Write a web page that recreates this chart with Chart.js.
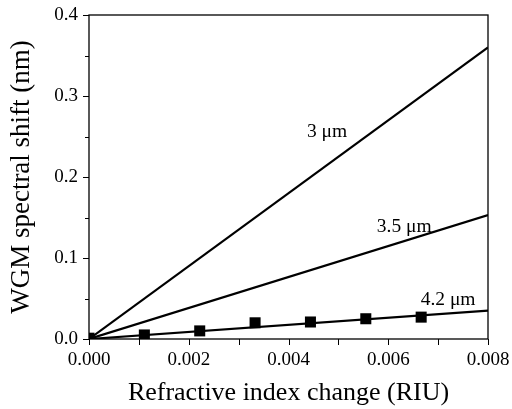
<!DOCTYPE html>
<html><head><meta charset="utf-8">
<script src="https://cdn.jsdelivr.net/npm/chart.js@4/dist/chart.umd.min.js"></script>
<style>html,body{margin:0;padding:0;background:#fff}#wrap{width:512px;height:409px}</style>
</head><body><div id="wrap"><canvas id="c" width="512" height="409"></canvas></div>
<script>
const xRange = [0, 0.008];
const line3um = [0, 0.360];
const line35um = [0, 0.153];
const line42um = [0, 0.035];
const measX = [0, 0.00111, 0.00222, 0.00333, 0.00444, 0.00555, 0.00666];
const measY = [0.001, 0.005, 0.010, 0.020, 0.021, 0.025, 0.027];
const lineLabels = ["3 \u03bcm", "3.5 \u03bcm", "4.2 \u03bcm"];
const labelAt = [[0.00437, 0.2498], [0.00577, 0.1323], [0.00665, 0.042]];
const xTicks = [0, 0.002, 0.004, 0.006, 0.008];
const yTicks = [0, 0.1, 0.2, 0.3, 0.4];

const FONT = "'Liberation Serif', 'Times New Roman', serif";
const toPts = (ys) => ys.map((y, i) => ({x: xRange[i], y}));

const axisPlugin = {
  id: 'axisTicks',
  afterDatasetsDraw(chart) {
    const {ctx, chartArea: a, scales: {x, y}} = chart;
    ctx.save();
    ctx.strokeStyle = '#000';
    ctx.lineWidth = 1.3;
    ctx.strokeRect(a.left, a.top, a.right - a.left, a.bottom - a.top);
    ctx.lineWidth = 1;
    ctx.beginPath();
    for (let v = 0; v <= 0.4001; v += 0.05) {
      const p = Math.round(y.getPixelForValue(v)) + 0.5;
      const major = Math.abs(v * 10 - Math.round(v * 10)) < 1e-6;
      ctx.moveTo(a.left, p); ctx.lineTo(a.left - (major ? 6 : 4), p);
    }
    for (let v = 0; v <= 0.00801; v += 0.001) {
      const p = Math.round(x.getPixelForValue(v)) + 0.5;
      ctx.moveTo(p, a.bottom); ctx.lineTo(p, a.bottom + 6);
    }
    ctx.stroke();
    ctx.fillStyle = '#000';
    ctx.font = '19.5px ' + FONT;
    ctx.textAlign = 'left';
    ctx.textBaseline = 'alphabetic';
    lineLabels.forEach((t, i) => {
      ctx.fillText(t, x.getPixelForValue(labelAt[i][0]), y.getPixelForValue(labelAt[i][1]));
    });
    ctx.restore();
  }
};

new Chart(document.getElementById('c'), {
  type: 'scatter',
  data: {
    datasets: [
      {type: 'line', data: toPts(line3um), borderColor: '#000', borderWidth: 2.2, pointRadius: 0, fill: false},
      {type: 'line', data: toPts(line35um), borderColor: '#000', borderWidth: 2.2, pointRadius: 0, fill: false},
      {type: 'line', data: toPts(line42um), borderColor: '#000', borderWidth: 2.2, pointRadius: 0, fill: false},
      {data: measX.map((xv, i) => ({x: xv, y: measY[i]})), pointStyle: 'rect', pointRadius: 7.8,
       backgroundColor: '#000', borderColor: '#000', borderWidth: 0}
    ]
  },
  options: {
    responsive: false, animation: false, devicePixelRatio: 1,
    layout: {padding: {top: 15, right: 24, left: 0, bottom: 0}},
    plugins: {legend: {display: false}, tooltip: {enabled: false}},
    scales: {
      x: {
        type: 'linear', min: 0, max: 0.008,
        afterBuildTicks: s => { s.ticks = xTicks.map(v => ({value: v})); },
        afterFit: s => { s.height = 70; s.paddingLeft = 0; s.paddingRight = 0; },
        grid: {display: false, drawTicks: false},
        border: {display: false},
        ticks: {color: '#000', font: {family: FONT, size: 19}, padding: 10, maxRotation: 0,
                callback: v => v.toFixed(3)},
        title: {display: true, text: 'Refractive index change (RIU)', color: '#000',
                font: {family: FONT, size: 26}, padding: {top: 0, bottom: 0}}
      },
      y: {
        type: 'linear', min: 0, max: 0.4,
        afterBuildTicks: s => { s.ticks = yTicks.map(v => ({value: v})); },
        afterFit: s => { s.width = 89; s.paddingTop = 0; s.paddingBottom = 0; },
        grid: {display: false, drawTicks: false},
        border: {display: false},
        ticks: {color: '#000', font: {family: FONT, size: 19}, padding: 11,
                callback: v => v.toFixed(1)},
        title: {display: true, text: 'WGM spectral shift (nm)', color: '#000',
                font: {family: FONT, size: 27}, padding: {top: 6, bottom: 2}}
      }
    }
  },
  plugins: [axisPlugin]
});
</script></body></html>
